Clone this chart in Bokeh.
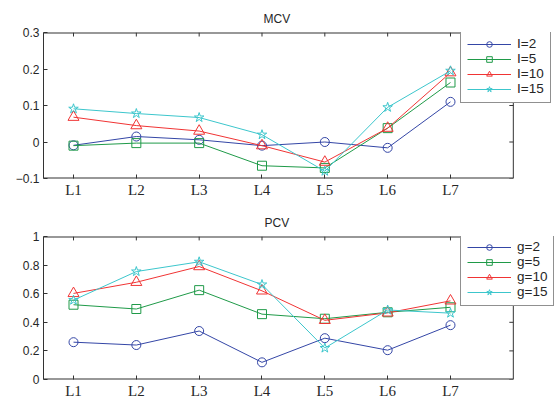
from bokeh.plotting import figure
from bokeh.layouts import column
from bokeh.models import Legend, LegendItem, FixedTicker, Range1d
from bokeh.embed import file_html
from bokeh.resources import INLINE

categories = ["L1", "L2", "L3", "L4", "L5", "L6", "L7"]
xpos = [1, 2, 3, 4, 5, 6, 7]

mcv_I2 = [-0.009, 0.015, 0.006, -0.010, 0.000, -0.016, 0.110]
mcv_I5 = [-0.010, -0.003, -0.003, -0.065, -0.071, 0.038, 0.163]
mcv_I10 = [0.068, 0.045, 0.030, -0.010, -0.055, 0.038, 0.190]
mcv_I15 = [0.091, 0.078, 0.067, 0.020, -0.080, 0.095, 0.195]

pcv_g2 = [0.261, 0.241, 0.339, 0.120, 0.289, 0.205, 0.380]
pcv_g5 = [0.523, 0.493, 0.625, 0.457, 0.425, 0.470, 0.505]
pcv_g10 = [0.602, 0.680, 0.790, 0.620, 0.414, 0.466, 0.550]
pcv_g15 = [0.555, 0.755, 0.823, 0.664, 0.220, 0.486, 0.464]

mcv_labels = ["I=2", "I=5", "I=10", "I=15"]
pcv_labels = ["g=2", "g=5", "g=10", "g=15"]

colors = ["#3446a6", "#1f9a48", "#f03434", "#3cc6cc"]
markers = ["circle", "square", "triangle", "star"]
msizes = [9, 9, 11, 10]

SANS = "Liberation Sans"
SERIF = "Liberation Serif"
TXT = "#262626"
EDGE = "#333333"

# axes box in data units: x from X0 to XBOX (frame extends further right so the legend is not clipped)
X0, XBOX, XEND = 0.5225, 8.0, 8.735
FRAME_H = 146
TICK_PX = 4


def make_panel(title, title_offset, series, labels, yr, yticks, top_border, bottom_border, legend_y):
    ymin, ymax = yr
    p = figure(width=560, height=top_border + FRAME_H + bottom_border,
               output_backend="svg", toolbar_location=None,
               x_range=Range1d(X0, XEND), y_range=Range1d(ymin, ymax),
               min_border_left=43, min_border_right=1,
               min_border_top=top_border, min_border_bottom=bottom_border)
    p.title.text = title
    p.title.align = "left"
    p.title.offset = title_offset
    p.title.text_font = SANS
    p.title.text_font_size = "12px"
    p.title.text_font_style = "normal"
    p.title.text_color = TXT
    p.title.standoff = 13
    p.grid.visible = False
    p.outline_line_color = None
    p.background_fill_color = "white"
    p.border_fill_color = "white"

    xax = p.xaxis[0]
    xax.ticker = FixedTicker(ticks=xpos)
    xax.major_label_overrides = {x: c for x, c in zip(xpos, categories)}
    xax.major_label_text_font = SERIF
    xax.major_label_text_font_size = "15px"
    xax.major_label_text_color = TXT
    xax.major_label_standoff = 3
    xax.axis_line_color = None
    yax = p.yaxis[0]
    yax.ticker = FixedTicker(ticks=yticks)
    yax.major_label_text_font = SANS
    yax.major_label_text_font_size = "12px"
    yax.major_label_text_color = TXT
    yax.major_label_standoff = 4
    yax.axis_line_color = EDGE
    for ax in (xax, yax):
        ax.major_tick_in = TICK_PX
        ax.major_tick_out = 0
        ax.minor_tick_line_color = None
        ax.major_tick_line_color = EDGE

    # box edges (bottom, top, right) and inward ticks on the top and right sides
    p.segment(x0=[X0, X0], x1=[XBOX, XBOX], y0=[ymin, ymax], y1=[ymin, ymax],
              line_color=EDGE, line_width=2)
    p.segment(x0=[XBOX], x1=[XBOX], y0=[ymin], y1=[ymax], line_color=EDGE, line_width=1)
    dx = (XEND - X0) / (560 - 43 - 1) * TICK_PX
    dy = (ymax - ymin) / FRAME_H * TICK_PX
    p.segment(x0=[XBOX] * len(yticks), x1=[XBOX - dx] * len(yticks),
              y0=yticks, y1=yticks, line_color=EDGE, line_width=1)
    p.segment(x0=xpos, x1=xpos, y0=[ymax] * len(xpos), y1=[ymax - dy] * len(xpos),
              line_color=EDGE, line_width=1)

    items = []
    for vals, lab, col, mk, ms in zip(series, labels, colors, markers, msizes):
        ln = p.line(xpos, vals, line_color=col, line_width=1)
        sc = p.scatter(xpos, vals, marker=mk, size=ms, line_color=col,
                       fill_color=None, line_width=1)
        items.append(LegendItem(label=lab, renderers=[ln, sc]))

    legend = Legend(items=items, location=(417, legend_y),
                    label_text_font=SANS, label_text_font_size="13.5px",
                    label_text_color=TXT, glyph_width=44, glyph_height=14,
                    label_height=14, spacing=0, padding=6, margin=0,
                    label_standoff=6, border_line_color="#222222",
                    border_line_width=1, background_fill_alpha=1.0)
    p.add_layout(legend, "center")
    return p


p1 = make_panel("MCV", 220, [mcv_I2, mcv_I5, mcv_I10, mcv_I15], mcv_labels,
                (-0.1, 0.3), [-0.1, 0, 0.1, 0.2, 0.3], 32, 22, 75)
p2 = make_panel("PCV", 221, [pcv_g2, pcv_g5, pcv_g10, pcv_g15], pcv_labels,
                (0, 1), [0, 0.2, 0.4, 0.6, 0.8, 1], 36, 19, 73)

p = column(p1, p2, spacing=0)
open("out.html", "w").write(file_html(p, INLINE))
